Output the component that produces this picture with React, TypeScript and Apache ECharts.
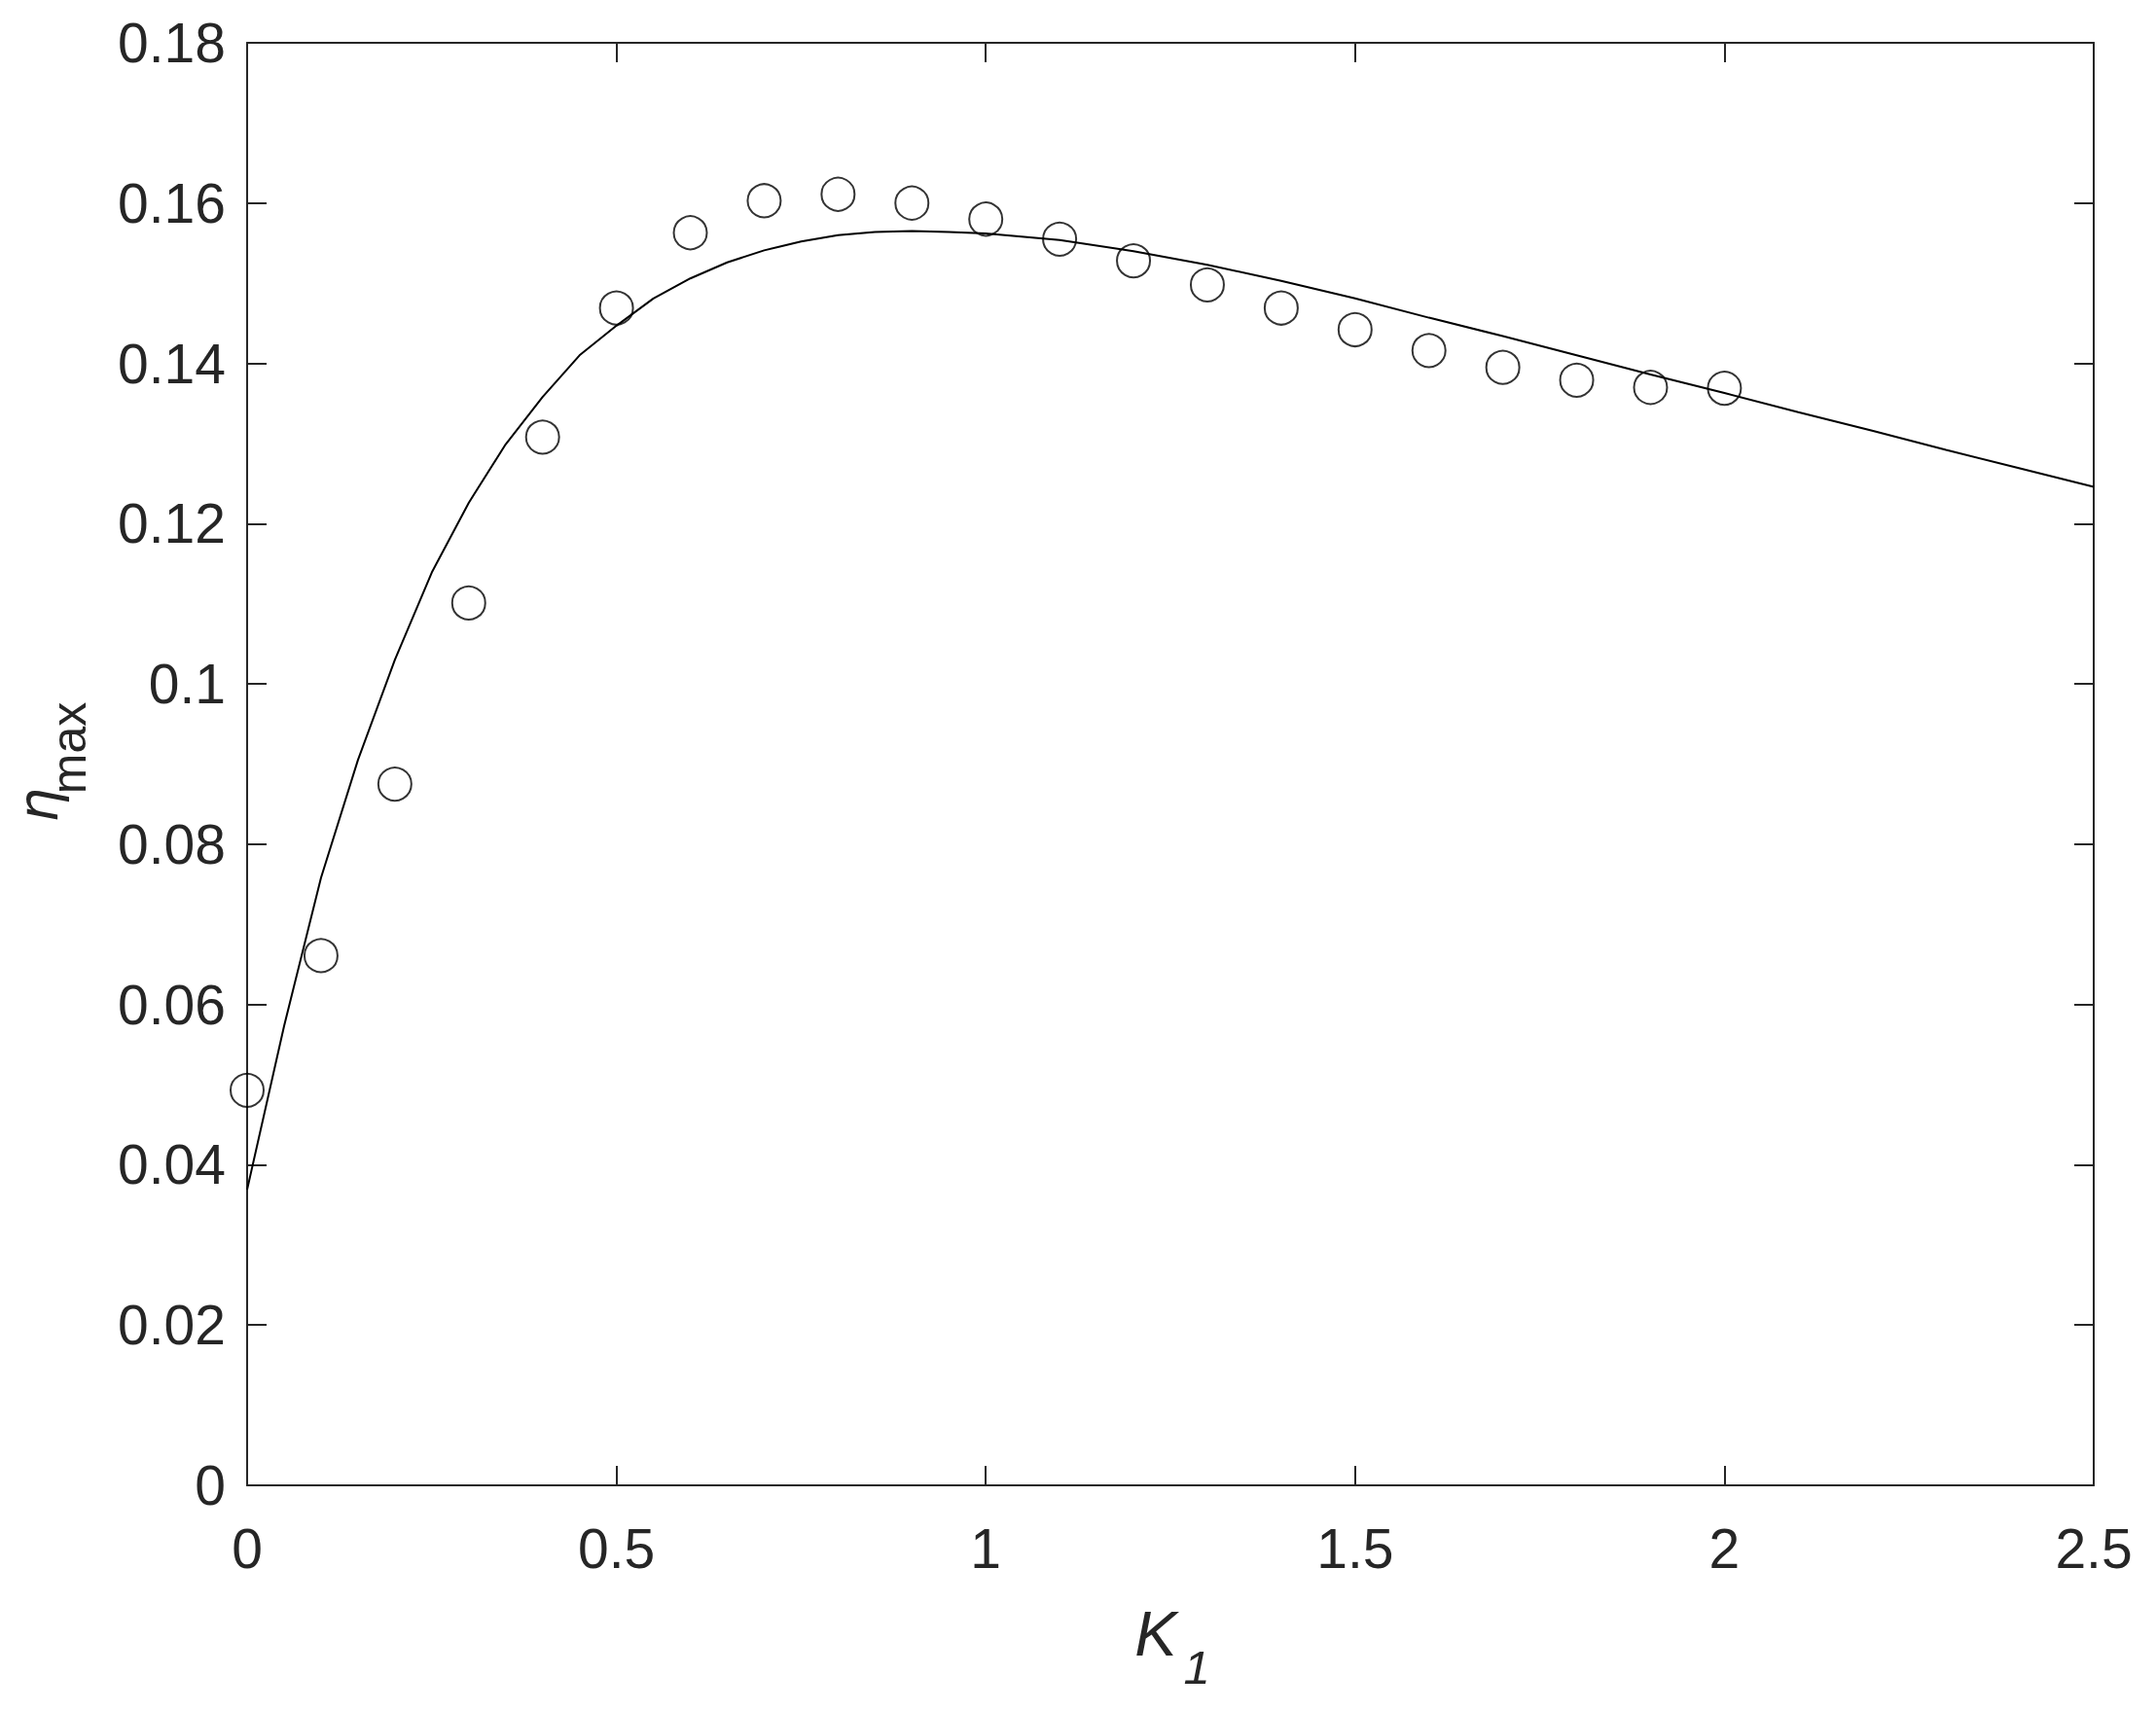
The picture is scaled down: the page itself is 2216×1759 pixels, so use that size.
import React, { useEffect, useRef } from "react";
import * as echarts from "echarts";

// Tick labels
const xTicks = [0, 0.5, 1, 1.5, 2, 2.5];
const yTicks = [0, 0.02, 0.04, 0.06, 0.08, 0.1, 0.12, 0.14, 0.16, 0.18];

// Model curve (solid line)
const curveK = [
  0, 0.05, 0.1, 0.15, 0.2, 0.25, 0.3, 0.35, 0.4, 0.45, 0.5, 0.55, 0.6, 0.65, 0.7, 0.75,
  0.8, 0.85, 0.9, 0.95, 1.0, 1.1, 1.2, 1.3, 1.4, 1.5, 1.6, 1.7, 1.8, 1.9, 2.0, 2.1, 2.2,
  2.3, 2.4, 2.5,
];
const curveEta = [
  0.0369, 0.0573, 0.0758, 0.0905, 0.103, 0.1139, 0.1226, 0.1299, 0.1358, 0.141, 0.1447,
  0.1481, 0.1506, 0.1526, 0.1541, 0.1552, 0.156, 0.1564, 0.1565, 0.1564, 0.1562, 0.1554,
  0.154, 0.1523, 0.1503, 0.1481, 0.1457, 0.1434, 0.141, 0.1386, 0.1363, 0.1339, 0.1316,
  0.1292, 0.1269, 0.1246,
];

// Measured points (open circles)
const pointK = [
  0, 0.1, 0.2, 0.3, 0.4, 0.5, 0.6, 0.7, 0.8, 0.9, 1.0, 1.1, 1.2, 1.3, 1.4, 1.5, 1.6, 1.7,
  1.8, 1.9, 2.0,
];
const pointEta = [
  0.0493, 0.0661, 0.0875, 0.1101, 0.1308, 0.1469, 0.1563, 0.1603, 0.1611, 0.16, 0.158,
  0.1555, 0.1528, 0.1498, 0.1469, 0.1442, 0.1416, 0.1395, 0.1379, 0.137, 0.1369,
];

const AX = "#262626";
const FONT = '"Liberation Sans", Arial, sans-serif';

const fmt = (ticks: number[]) => (v: number) => {
  const t = ticks.find((x) => Math.abs(x - v) < 1e-9);
  return t === undefined ? "" : String(t);
};

export default function App() {
  const ref = useRef<HTMLDivElement>(null);
  useEffect(() => {
    if (!ref.current) return;
    const chart = echarts.init(ref.current, null, { renderer: "svg" });
    const axisLine = { show: true, onZero: false, lineStyle: { color: AX, width: 2 } };
    const axisTick = { show: true, inside: true, length: 20, lineStyle: { color: AX, width: 2 } };
    const labelBase = { fontSize: 57, fontFamily: FONT, color: AX };
    const xBase = { type: "value", min: 0, max: 2.5, interval: 0.5, splitLine: { show: false } };
    const yBase = { type: "value", min: 0, max: 0.18, interval: 0.02, splitLine: { show: false } };
    chart.setOption({
      animation: false,
      backgroundColor: "#ffffff",
      grid: { left: 254, right: 64, top: 44, bottom: 232, containLabel: false },
      xAxis: [
        {
          ...xBase,
          position: "bottom",
          axisLine,
          axisTick,
          axisLabel: { ...labelBase, margin: 36, showMinLabel: true, showMaxLabel: true, formatter: fmt(xTicks) },
        },
        { ...xBase, position: "top", axisLine, axisTick, axisLabel: { show: false } },
      ],
      yAxis: [
        {
          ...yBase,
          position: "left",
          axisLine,
          axisTick,
          axisLabel: { ...labelBase, margin: 22, showMinLabel: true, showMaxLabel: true, formatter: fmt(yTicks) },
        },
        { ...yBase, position: "right", axisLine, axisTick, axisLabel: { show: false } },
      ],
      series: [
        {
          type: "line",
          xAxisIndex: 0,
          yAxisIndex: 0,
          data: curveK.map((k, i) => [k, curveEta[i]]),
          symbol: "none",
          showSymbol: false,
          lineStyle: { color: "#000", width: 2 },
          clip: true,
        },
        {
          type: "scatter",
          xAxisIndex: 0,
          yAxisIndex: 0,
          data: pointK.map((k, i) => [k, pointEta[i]]),
          symbol: "circle",
          symbolSize: 34,
          itemStyle: { color: "rgba(0,0,0,0)", borderColor: "#000", borderWidth: 2 },
        },
      ],
      graphic: [
        {
          type: "text",
          x: 1188,
          y: 1679,
          style: { text: "K", font: `italic 65px ${FONT}`, fill: AX, align: "center", verticalAlign: "middle" },
        },
        {
          type: "text",
          x: 1230,
          y: 1714,
          style: { text: "1", font: `italic 49px ${FONT}`, fill: AX, align: "center", verticalAlign: "middle" },
        },
        {
          type: "text",
          x: 39,
          y: 828,
          rotation: Math.PI / 2,
          style: { text: "η", font: `italic 56px "DejaVu Sans", ${FONT}`, fill: AX, align: "center", verticalAlign: "middle" },
        },
        {
          type: "text",
          x: 71,
          y: 769,
          rotation: Math.PI / 2,
          style: { text: "max", font: `50px ${FONT}`, fill: AX, align: "center", verticalAlign: "middle" },
        },
      ],
    });
    return () => chart.dispose();
  }, []);
  return (
    <div
      ref={ref}
      style={{ position: "fixed", left: 0, top: 0, width: 2216, height: 1759, background: "#fff" }}
    />
  );
}
